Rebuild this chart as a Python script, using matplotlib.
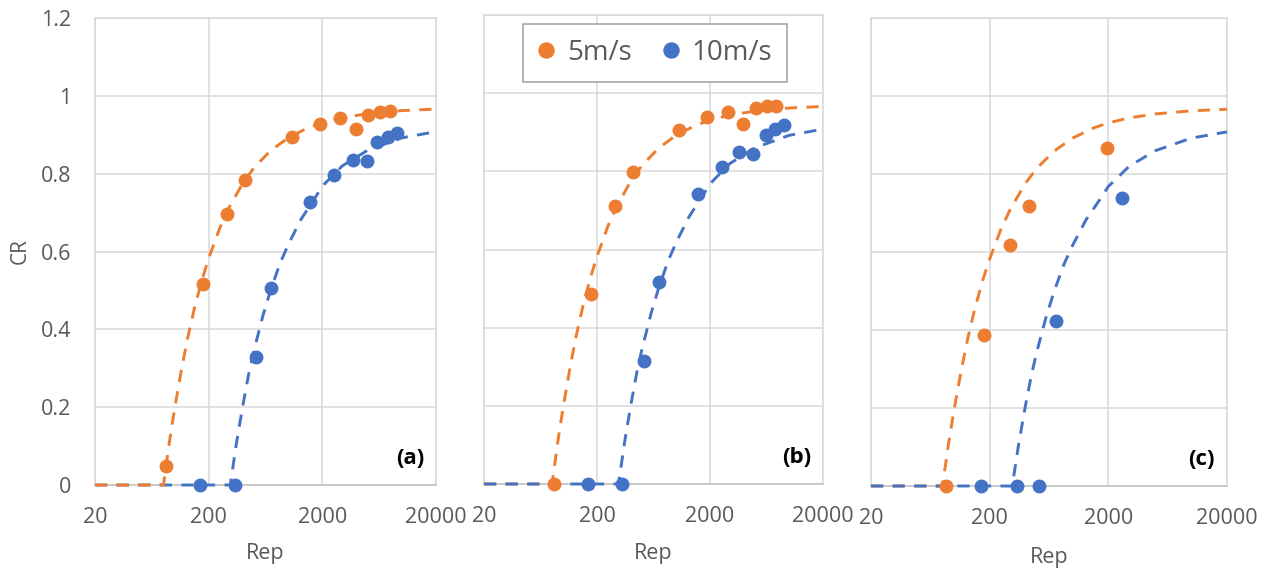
import matplotlib
matplotlib.use("Agg")
import matplotlib.pyplot as plt
from matplotlib.ticker import NullLocator

plt.rcParams['font.family'] = ['Open Sans', 'DejaVu Sans']

ORANGE = '#ED7D31'
BLUE = '#4472C4'
GRID = '#D9D9D9'
TEXT = '#595959'

# ---- data ----
# panel (a)
a_rep_5 = [84, 177, 288, 418, 1079, 1894, 2884, 3937, 5094, 6372, 7800]
a_cr_5 = [0.048, 0.516, 0.697, 0.784, 0.894, 0.928, 0.942, 0.916, 0.951, 0.958, 0.961]
a_rep_10 = [167, 341, 523, 710, 1568, 2536, 3700, 4920, 6114, 7592, 9060]
a_cr_10 = [0.0, 0.0, 0.329, 0.506, 0.726, 0.797, 0.836, 0.832, 0.881, 0.894, 0.904]

# panel (b)
b_rep_5 = [84, 176, 288, 416, 1065, 1894, 2884, 3910, 5094, 6325, 7747]
b_cr_5 = [0.0, 0.487, 0.712, 0.798, 0.906, 0.940, 0.952, 0.922, 0.961, 0.966, 0.968]
b_rep_10 = [166, 335, 516, 705, 1567, 2553, 3630, 4757, 6197, 7495, 9060]
b_cr_10 = [0.0, 0.0, 0.314, 0.517, 0.742, 0.812, 0.850, 0.845, 0.894, 0.908, 0.918]

# panel (c)
c_rep_5 = [86, 179, 295, 426, 1937]
c_cr_5 = [0.0, 0.388, 0.617, 0.717, 0.867]
c_rep_10 = [169, 338, 524, 729, 2589]
c_cr_10 = [0.0, 0.0, 0.0, 0.423, 0.738]

# dashed trend lines (same in all three panels)
fit_rep_5 = [20, 80, 90, 100, 115, 130, 150, 175, 200, 250, 300, 400, 500,
             700, 1000, 1500, 2000, 3000, 5000, 10000, 20000]
fit_cr_5 = [0.0, 0.0, 0.108, 0.194, 0.295, 0.375, 0.455, 0.528, 0.582, 0.660,
            0.711, 0.776, 0.815, 0.859, 0.892, 0.918, 0.931, 0.944, 0.954,
            0.962, 0.966]
fit_rep_10 = [20, 310, 350, 400, 450, 500, 600, 700, 850, 1000, 1300, 1700,
              2000, 3000, 5000, 10000, 20000]
fit_cr_10 = [0.0, 0.0, 0.105, 0.205, 0.285, 0.345, 0.435, 0.500, 0.570, 0.617,
             0.683, 0.735, 0.768, 0.820, 0.860, 0.892, 0.908]

panels = [
    ('(a)', a_rep_5, a_cr_5, a_rep_10, a_cr_10),
    ('(b)', b_rep_5, b_cr_5, b_rep_10, b_cr_10),
    ('(c)', c_rep_5, c_cr_5, c_rep_10, c_cr_10),
]

x_ticks = [20, 200, 2000, 20000]
x_labels = ['20', '200', '2000', '20000']
y_ticks = [0, 0.2, 0.4, 0.6, 0.8, 1.0, 1.2]
y_labels = ['0', '0.2', '0.4', '0.6', '0.8', '1', '1.2']

W, H = 1271, 571
fig = plt.figure(figsize=(W / 100, H / 100), dpi=100)

# axes boxes in pixels: left, right, top, bottom
boxes = [(95, 436, 18, 485), (484, 823, 15, 484), (871, 1227, 18, 486)]
rep_pos = [(265, 553), (653, 553), (1049, 558)]

for i, (tag, r5, c5, r10, c10) in enumerate(panels):
    l, r, t, b = boxes[i]
    ax = fig.add_axes([l / W, 1 - b / H, (r - l) / W, (b - t) / H])
    ax.set_xscale('log')
    ax.set_xlim(20, 20000)
    ax.set_ylim(0, 1.2)
    ax.set_xticks(x_ticks)
    ax.set_xticklabels(x_labels)
    ax.xaxis.set_minor_locator(NullLocator())
    ax.set_yticks(y_ticks)
    if i == 0:
        ax.set_yticklabels(y_labels)
    else:
        ax.set_yticklabels([])
    ax.tick_params(length=0, labelsize=15.5, colors=TEXT)
    ax.tick_params(axis='x', pad=16)
    ax.tick_params(axis='y', pad=17)
    ax.grid(True, color=GRID, lw=1.1)
    ax.set_axisbelow(True)
    for s in ax.spines.values():
        s.set_color(GRID)
        s.set_linewidth(1.1)
    ax.spines['bottom'].set_color('#BFBFBF')

    # trend lines (in (a) the orange one sits on top)
    z5, z10 = (3.2, 3.0) if i == 0 else (3.0, 3.2)
    ax.plot(fit_rep_5, fit_cr_5, color=ORANGE, lw=2.1, dashes=(4.2, 3.2),
            zorder=z5, clip_on=False)
    ax.plot(fit_rep_10, fit_cr_10, color=BLUE, lw=2.1, dashes=(4.2, 3.2),
            zorder=z10, clip_on=False)

    # data
    ax.plot(r5, c5, 'o', color=ORANGE, ms=9, zorder=4, clip_on=False, label='5m/s')
    ax.plot(r10, c10, 'o', color=BLUE, ms=9, zorder=4, clip_on=False, label='10m/s')

    ax.text(0.966, 0.057, tag, transform=ax.transAxes, ha='right', va='center',
            fontsize=16, fontweight='bold', color='black')

    fig.text(rep_pos[i][0] / W, 1 - rep_pos[i][1] / H, 'Rep', ha='center',
             va='center', fontsize=15.5, color=TEXT)

    if i == 1:
        leg = ax.legend(loc='center', bbox_to_anchor=(655 / W, 1 - 53 / H),
                        bbox_transform=fig.transFigure, ncol=2, fontsize=20,
                        frameon=True, fancybox=False, framealpha=1,
                        edgecolor='#A6A6A6', handlelength=0.6,
                        handletextpad=0.45, columnspacing=1.1,
                        markerscale=1.2, borderpad=0.55)
        for txt in leg.get_texts():
            txt.set_color(TEXT)
        leg.get_frame().set_linewidth(1.2)

fig.text(20 / W, 1 - 251 / H, 'CR', rotation=90, ha='center', va='center',
         fontsize=15, color=TEXT)

fig.savefig('out.png', dpi=100)
